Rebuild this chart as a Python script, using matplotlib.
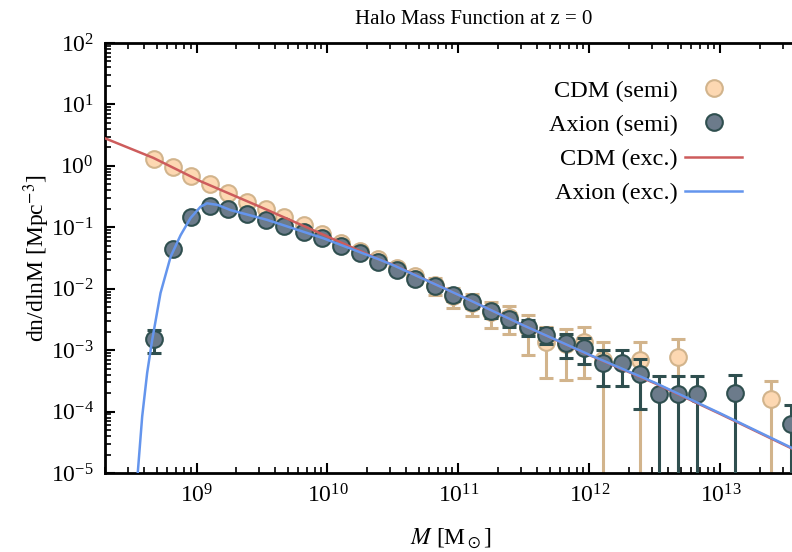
import numpy as np
import matplotlib
matplotlib.use('Agg')
import matplotlib.pyplot as plt
from matplotlib.ticker import LogLocator

plt.rcParams['font.family'] = 'serif'
plt.rcParams['font.serif'] = ['Liberation Serif', 'DejaVu Serif']
plt.rcParams['mathtext.fontset'] = 'stix'

nan = np.nan

# halo mass bin centres [Msun]
mass = [4.7e8, 6.6e8, 9.1e8, 1.26e9, 1.74e9, 2.45e9, 3.39e9, 4.68e9, 6.6e9, 9.1e9,
        1.26e10, 1.78e10, 2.45e10, 3.39e10, 4.68e10, 6.6e10, 9.1e10, 1.26e11, 1.78e11, 2.45e11,
        3.39e11, 4.68e11, 6.6e11, 9.1e11, 1.26e12, 1.78e12, 2.45e12, 3.39e12, 4.79e12, 6.6e12,
        9.1e12, 1.29e13, 1.78e13, 2.45e13, 3.47e13]

# semi-analytic counts, dn/dlnM [Mpc^-3]
cdm_semi = [1.29, 0.95, 0.68, 0.50, 0.36, 0.26, 0.196, 0.146, 0.109, 0.077,
            0.055, 0.041, 0.0305, 0.0217, 0.0161, 0.0115, 0.0076, 0.0059, 0.0042, 0.0035,
            0.00227, 0.00137, 0.00126, 0.00137, 6.9e-4, nan, 6.9e-4, nan, 7.7e-4, nan,
            nan, nan, nan, 1.6e-4, nan]
cdm_relerr = [0.03, 0.03, 0.04, 0.04, 0.05, 0.05, 0.06, 0.07, 0.08, 0.09,
              0.10, 0.12, 0.14, 0.17, 0.2, 0.3, 0.35, 0.39, 0.45, 0.48,
              0.63, 0.74, 0.74, 0.74, 1.0, nan, 1.0, nan, 1.0, nan,
              nan, nan, nan, 1.0, nan]

axion_semi = [1.5e-3, 0.044, 0.146, 0.222, 0.195, 0.163, 0.131, 0.105, 0.085, 0.066,
              0.050, 0.038, 0.0275, 0.0202, 0.0144, 0.0111, 0.0079, 0.0060, 0.00434, 0.00318,
              0.00241, 0.00177, 0.00129, 0.00107, 6.25e-4, 6.25e-4, 4.1e-4, 1.93e-4, 1.93e-4, 1.93e-4,
              nan, 2.0e-4, nan, nan, 6.3e-5]
axion_relerr = [0.41, 0.1, 0.05, 0.05, 0.05, 0.05, 0.06, 0.06, 0.07, 0.08,
                0.09, 0.1, 0.12, 0.14, 0.16, 0.18, 0.2, 0.2, 0.22, 0.25,
                0.3, 0.3, 0.42, 0.45, 0.59, 0.59, 0.73, 1.0, 1.0, 1.0,
                nan, 1.0, nan, nan, 1.0]

# excursion-set curves (log10 M, log10 dn/dlnM)
cdm_exc_logm = [8.30, 8.67, 9.03, 9.5, 10.0, 10.39, 10.5, 11.0, 11.5, 12.0, 12.5, 13.0, 13.7]
cdm_exc_logn = [0.45, 0.13, -0.25, -0.68, -1.15, -1.52, -1.61, -2.10, -2.60, -3.08, -3.54, -4.04, -4.76]
axion_exc_logm = [8.547, 8.585, 8.623, 8.661, 8.725, 8.802, 8.878, 8.954, 9.031, 9.08,
                  9.16, 9.26, 9.54, 9.97, 10.39, 10.5, 11.0, 11.5, 12.0, 12.5, 13.0, 13.7]
axion_exc_logn = [-5.11, -4.08, -3.37, -2.84, -2.07, -1.48, -1.13, -0.85, -0.665, -0.61,
                  -0.635, -0.72, -0.88, -1.18, -1.52, -1.615, -2.10, -2.60, -3.075, -3.53, -4.03, -4.75]

mass = np.array(mass)
cdm_semi = np.array(cdm_semi)
axion_semi = np.array(axion_semi)
cdm_err = cdm_semi * np.array(cdm_relerr)
axion_err = axion_semi * np.array(axion_relerr)

cdm_face, cdm_edge = '#fdd8b2', '#d2b48c'
ax_face, ax_edge = '#6c7b8b', '#2f4f4f'

fig = plt.figure(figsize=(7.92, 5.52), dpi=100)
ax = fig.add_axes([105/792, 79/552, 707/792, 430/552])
ax.set_xscale('log')
ax.set_yscale('log')

#semi-analytic points with poisson errors
ax.errorbar(mass, cdm_semi, yerr=cdm_err, fmt='none', ecolor=cdm_edge,
            elinewidth=2.2, capsize=5, capthick=2.2, zorder=2)
ax.plot(mass, cdm_semi, 'o', ms=12, mfc=cdm_face, mec=cdm_edge, mew=1.5,
        ls='none', zorder=3, label='CDM (semi)')
ax.errorbar(mass, axion_semi, yerr=axion_err, fmt='none', ecolor=ax_edge,
            elinewidth=2.2, capsize=5, capthick=2.2, zorder=4)
ax.plot(mass, axion_semi, 'o', ms=12, mfc=ax_face, mec=ax_edge, mew=1.5,
        ls='none', zorder=5, label='Axion (semi)')

#excursion set curves
ax.plot(10**np.array(cdm_exc_logm), 10**np.array(cdm_exc_logn), color='#cd5c5c',
        lw=1.8, zorder=6, label='CDM (exc.)')
ax.plot(10**np.array(axion_exc_logm), 10**np.array(axion_exc_logn), color='#6495ed',
        lw=1.8, zorder=7, label='Axion (exc.)')

ax.set_xlim(2.0e8, 10**13.7)
ax.set_ylim(1e-5, 1e2)
ax.yaxis.set_major_locator(LogLocator(base=10, numticks=20))
ax.yaxis.set_minor_locator(LogLocator(base=10, subs=np.arange(2, 10), numticks=20))

ax.tick_params(which='both', direction='in', top=True, right=True, labelsize=17)
ax.tick_params(which='major', length=7, width=1.5)
ax.tick_params(which='minor', length=4, width=1.2)
ax.tick_params(axis='x', which='major', pad=8)
ax.tick_params(axis='y', which='major', pad=8)
for s in ax.spines.values():
    s.set_linewidth(2)

ax.set_xlabel(r'$M$ [M$_\odot$]', fontsize=17)
ax.xaxis.set_label_coords((451 - 105) / 707, -0.125)
ax.set_ylabel(r'dn/dlnM [Mpc$^{-3}$]', fontsize=17)
ax.yaxis.set_label_coords(-0.075, 0.5)
ax.set_title('Halo Mass Function at z = 0', fontsize=15, pad=13.5, x=(474 - 105) / 707)

ax.legend(loc='upper right', bbox_to_anchor=(752/792, 1 - 70/552),
          bbox_transform=fig.transFigure, frameon=False, markerfirst=False,
          fontsize=17.5, handlelength=2.35, handletextpad=0.3, borderaxespad=0)

fig.savefig('out.png', dpi=100)
